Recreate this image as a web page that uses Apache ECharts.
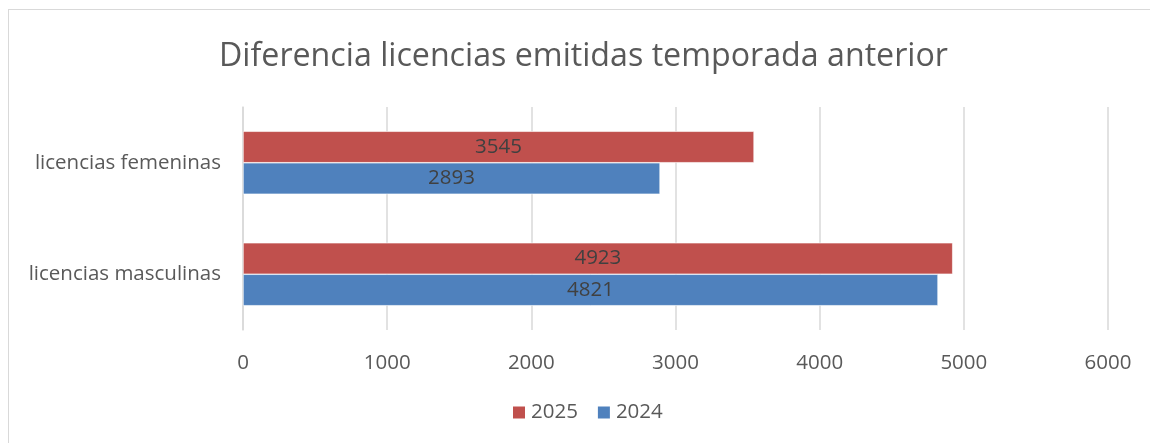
<!DOCTYPE html>
<html>
<head>
<meta charset="utf-8">
<script src="https://cdn.jsdelivr.net/npm/echarts@6/dist/echarts.min.js"></script>
<style>
  html, body { margin: 0; padding: 0; background: #fff; }
  #frame { position: absolute; left: 8px; top: 9px; width: 1160px; height: 460px; border: 1px solid #d9d9d9; box-sizing: border-box; }
  #chart { position: absolute; left: 0; top: 0; width: 1150px; height: 443px; }
</style>
</head>
<body>
<div id="frame"></div>
<div id="chart"></div>
<script>
// data
var categories = ['licencias masculinas', 'licencias femeninas'];
var values2025 = [4923, 3545];
var values2024 = [4821, 2893];
var legendOrder = ['2025', '2024'];

var chart = echarts.init(document.getElementById('chart'));

var fontName = 'Open Sans';

var option = {
  animation: false,
  title: {
    text: 'Diferencia licencias emitidas temporada anterior',
    left: 214,
    top: 36,
    textStyle: { color: '#595959', fontFamily: fontName, fontSize: 32.2, fontWeight: 'normal' }
  },
  legend: {
    data: legendOrder,
    bottom: 15,
    left: 506,
    itemWidth: 14,
    itemHeight: 14,
    itemGap: 18,
    icon: 'rect',
    textStyle: { color: '#595959', fontFamily: fontName, fontSize: 20.5 }
  },
  grid: {
    left: 243,
    right: 42,
    top: 107,
    bottom: 113
  },
  xAxis: {
    type: 'value',
    min: 0,
    max: 6000,
    interval: 1000,
    axisLine: { show: false },
    axisTick: { show: false },
    splitLine: { lineStyle: { color: '#d9d9d9', width: 1.5 } },
    axisLabel: {
      color: '#595959', fontFamily: fontName, fontSize: 20.5, margin: 23,
      formatter: function (v) { return String(v); }
    }
  },
  yAxis: {
    type: 'category',
    data: categories,
    axisLine: { show: true, lineStyle: { color: '#d9d9d9', width: 1.5 } },
    axisTick: { show: false },
    axisLabel: { color: '#595959', fontFamily: fontName, fontSize: 20.5, margin: 22 }
  },
  series: [
    {
      name: '2025',
      type: 'bar',
      data: values2025,
      barWidth: 31.5,
      barGap: '0%',
      itemStyle: { color: '#c0504d', borderColor: '#ffffff', borderWidth: 0.6 },
      label: { show: true, position: 'inside', color: '#404040', fontFamily: fontName, fontSize: 20.5 }
    },
    {
      name: '2024',
      type: 'bar',
      data: values2024,
      barWidth: 31.5,
      barGap: '0%',
      itemStyle: { color: '#4f81bd', borderColor: '#ffffff', borderWidth: 0.6 },
      label: { show: true, position: 'inside', color: '#404040', fontFamily: fontName, fontSize: 20.5 }
    }
  ]
};

chart.setOption(option);
</script>
</body>
</html>
